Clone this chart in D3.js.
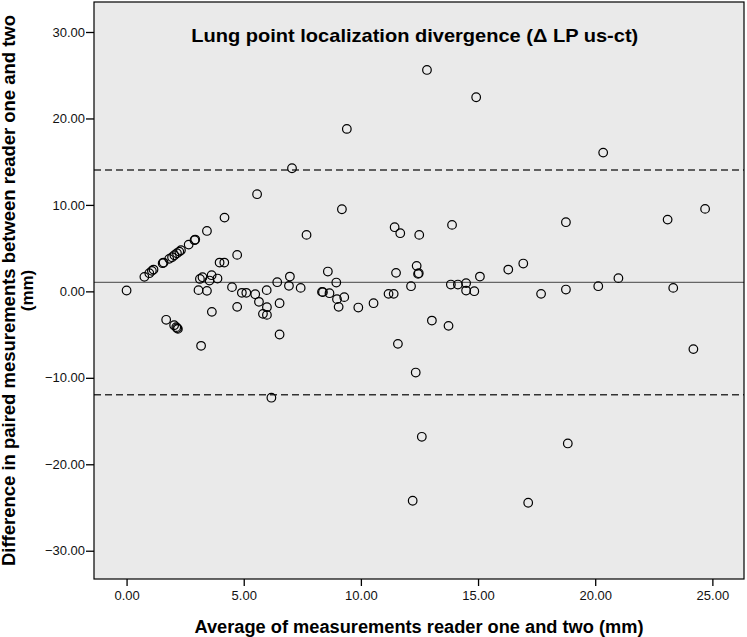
<!DOCTYPE html>
<html>
<head>
<meta charset="utf-8">
<script src="https://cdn.jsdelivr.net/npm/d3@7"></script>
<style>
  body { margin: 0; background: #fff; }
  svg { display: block; font-family: 'Liberation Sans', Arial, sans-serif; }
  .tick text { font-size: 13px; fill: #111; }
  .tick line { stroke: #000; stroke-width: 1.3; }
</style>
</head>
<body>
<svg id="chart"></svg>
<script>
// average of the two readers (mm)
var avgValues = [
  0.00, 0.76, 0.97, 1.08, 1.15, 1.54, 1.58, 1.82, 1.94, 2.04,
  2.15, 2.25, 2.32, 2.65, 2.90, 2.93, 3.43, 4.18, 4.72, 3.97,
  4.17, 7.68, 3.13, 3.24, 3.63, 3.54, 3.88, 3.07, 3.43, 4.50,
  4.72, 4.92, 5.11, 5.49, 5.98, 5.65, 5.99, 5.82, 5.99, 6.43,
  6.97, 6.93, 7.43, 6.53, 6.53, 3.64, 1.69, 2.03, 2.12, 2.16,
  2.19, 3.18, 6.18, 9.19, 11.44, 11.68, 12.49, 13.89, 8.59, 8.95,
  8.34, 8.38, 8.66, 8.98, 9.29, 9.05, 9.89, 10.54, 11.18, 11.40,
  11.50, 12.14, 12.38, 12.47, 12.44, 13.84, 14.14, 14.49, 14.49, 14.84,
  15.08, 13.03, 13.74, 11.58, 12.34, 16.29, 16.93, 18.75, 17.69, 18.75,
  20.13, 20.99, 23.09, 24.69, 23.33, 24.19, 12.82, 14.92, 9.40, 20.34,
  7.06, 5.57, 12.60, 18.83, 12.21, 17.14
]
// difference between the two readers (mm)
var diffValues = [
  0.10, 1.68, 2.10, 2.37, 2.52, 3.26, 3.33, 3.76, 3.95, 4.18,
  4.41, 4.60, 4.76, 5.41, 5.92, 5.99, 6.99, 8.53, 4.22, 3.33,
  3.33, 6.53, 1.44, 1.64, 1.87, 1.25, 1.48, 0.14, 0.06, 0.49,
  -1.79, -0.17, -0.17, -0.33, 0.14, -1.21, -1.83, -2.60, -2.72, 1.06,
  1.71, 0.64, 0.40, -1.37, -4.99, -2.37, -3.29, -3.91, -4.14, -4.25,
  -4.34, -6.30, -12.30, 9.50, 7.42, 6.73, 6.53, 7.69, 2.29, 1.02,
  -0.06, -0.09, -0.21, -0.90, -0.67, -1.79, -1.87, -1.37, -0.29, -0.29,
  2.14, 0.60, 2.95, 2.10, 2.02, 0.79, 0.79, 0.95, 0.09, 0.02,
  1.71, -3.38, -3.99, -6.07, -9.39, 2.52, 3.22, 8.00, -0.29, 0.21,
  0.60, 1.53, 8.30, 9.54, 0.40, -6.68, 25.61, 22.45, 18.79, 16.05,
  14.24, 11.24, -16.82, -17.59, -24.22, -24.45
]
// mean difference and limits of agreement
var refLines = [
  { value: 1.04, dashed: false },
  { value: 14.05, dashed: true },
  { value: -11.97, dashed: true }
]
var xTicks = [0, 5, 10, 15, 20, 25]
var yTicks = [-30, -20, -10, 0, 10, 20, 30]

var svgWidth = 747
var svgHeight = 637
var margin = { top: 2, right: 3, bottom: 58, left: 94 }
var plotW = svgWidth - margin.left - margin.right
var plotH = svgHeight - margin.top - margin.bottom

var svg = d3.select('#chart')
  .attr('width', svgWidth)
  .attr('height', svgHeight)

var x = d3.scaleLinear().domain([-1.39, 26.35]).range([0, plotW])
var y = d3.scaleLinear().domain([-33.27, 33.47]).range([plotH, 0])

var g = svg.append('g')
  .attr('transform', 'translate(' + margin.left + ',' + margin.top + ')')

g.append('rect')
  .attr('width', plotW).attr('height', plotH)
  .attr('fill', '#eaeaea')

// Reference lines (mean + limits)
g.selectAll('line.ref')
  .data(refLines).enter().append('line')
  .attr('class', 'ref')
  .attr('x1', 0).attr('x2', plotW)
  .attr('y1', function(d) { return y(d.value) })
  .attr('y2', function(d) { return y(d.value) })
  .attr('stroke', function(d) { return d.dashed ? '#333' : '#666' })
  .attr('stroke-width', function(d) { return d.dashed ? 1.5 : 1.2 })
  .attr('stroke-dasharray', function(d) { return d.dashed ? '7,4' : null })

// Points
var points = avgValues.map(function(v, i) { return { avg: v, diff: diffValues[i] } })
g.selectAll('circle.pt')
  .data(points).enter().append('circle')
  .attr('class', 'pt')
  .attr('cx', function(d) { return x(d.avg) })
  .attr('cy', function(d) { return y(d.diff) })
  .attr('r', 4.3)
  .attr('fill', 'none')
  .attr('stroke', '#000')
  .attr('stroke-width', 1.2)

// Frame
g.append('rect')
  .attr('width', plotW).attr('height', plotH)
  .attr('fill', 'none')
  .attr('stroke', '#000')
  .attr('stroke-width', 1.2)

// Axes
var fmt = d3.format('.2f')
var yAxis = g.append('g')
  .call(d3.axisLeft(y).tickValues(yTicks).tickSize(8).tickPadding(1).tickFormat(fmt))
yAxis.select('.domain').remove()

var xAxis = g.append('g')
  .attr('transform', 'translate(0,' + plotH + ')')
  .call(d3.axisBottom(x).tickValues(xTicks).tickSize(7).tickPadding(5).tickFormat(fmt))
xAxis.select('.domain').remove()

// Titles
g.append('text')
  .attr('x', x(12.3)).attr('y', 40)
  .attr('text-anchor', 'middle')
  .attr('font-size', 19).attr('font-weight', 'bold')
  .attr('textLength', 447).attr('lengthAdjust', 'spacingAndGlyphs')
  .text('Lung point localization divergence (\u0394 LP us-ct)')

svg.append('text')
  .attr('x', margin.left + plotW / 2).attr('y', 633)
  .attr('text-anchor', 'middle')
  .attr('font-size', 18).attr('font-weight', 'bold')
  .attr('textLength', 449).attr('lengthAdjust', 'spacingAndGlyphs')
  .text('Average of measurements reader one and two (mm)')

var yTitle = svg.append('g')
  .attr('transform', 'translate(0,' + (margin.top + y(0.1)) + ') rotate(-90)')
yTitle.append('text')
  .attr('x', 0).attr('y', 15)
  .attr('text-anchor', 'middle')
  .attr('font-size', 18).attr('font-weight', 'bold')
  .attr('textLength', 551).attr('lengthAdjust', 'spacingAndGlyphs')
  .text('Difference in paired mesurements between reader one and two')
yTitle.append('text')
  .attr('x', 0).attr('y', 33)
  .attr('text-anchor', 'middle')
  .attr('font-size', 17).attr('font-weight', 'bold')
  .text('(mm)')
</script>
</body>
</html>
